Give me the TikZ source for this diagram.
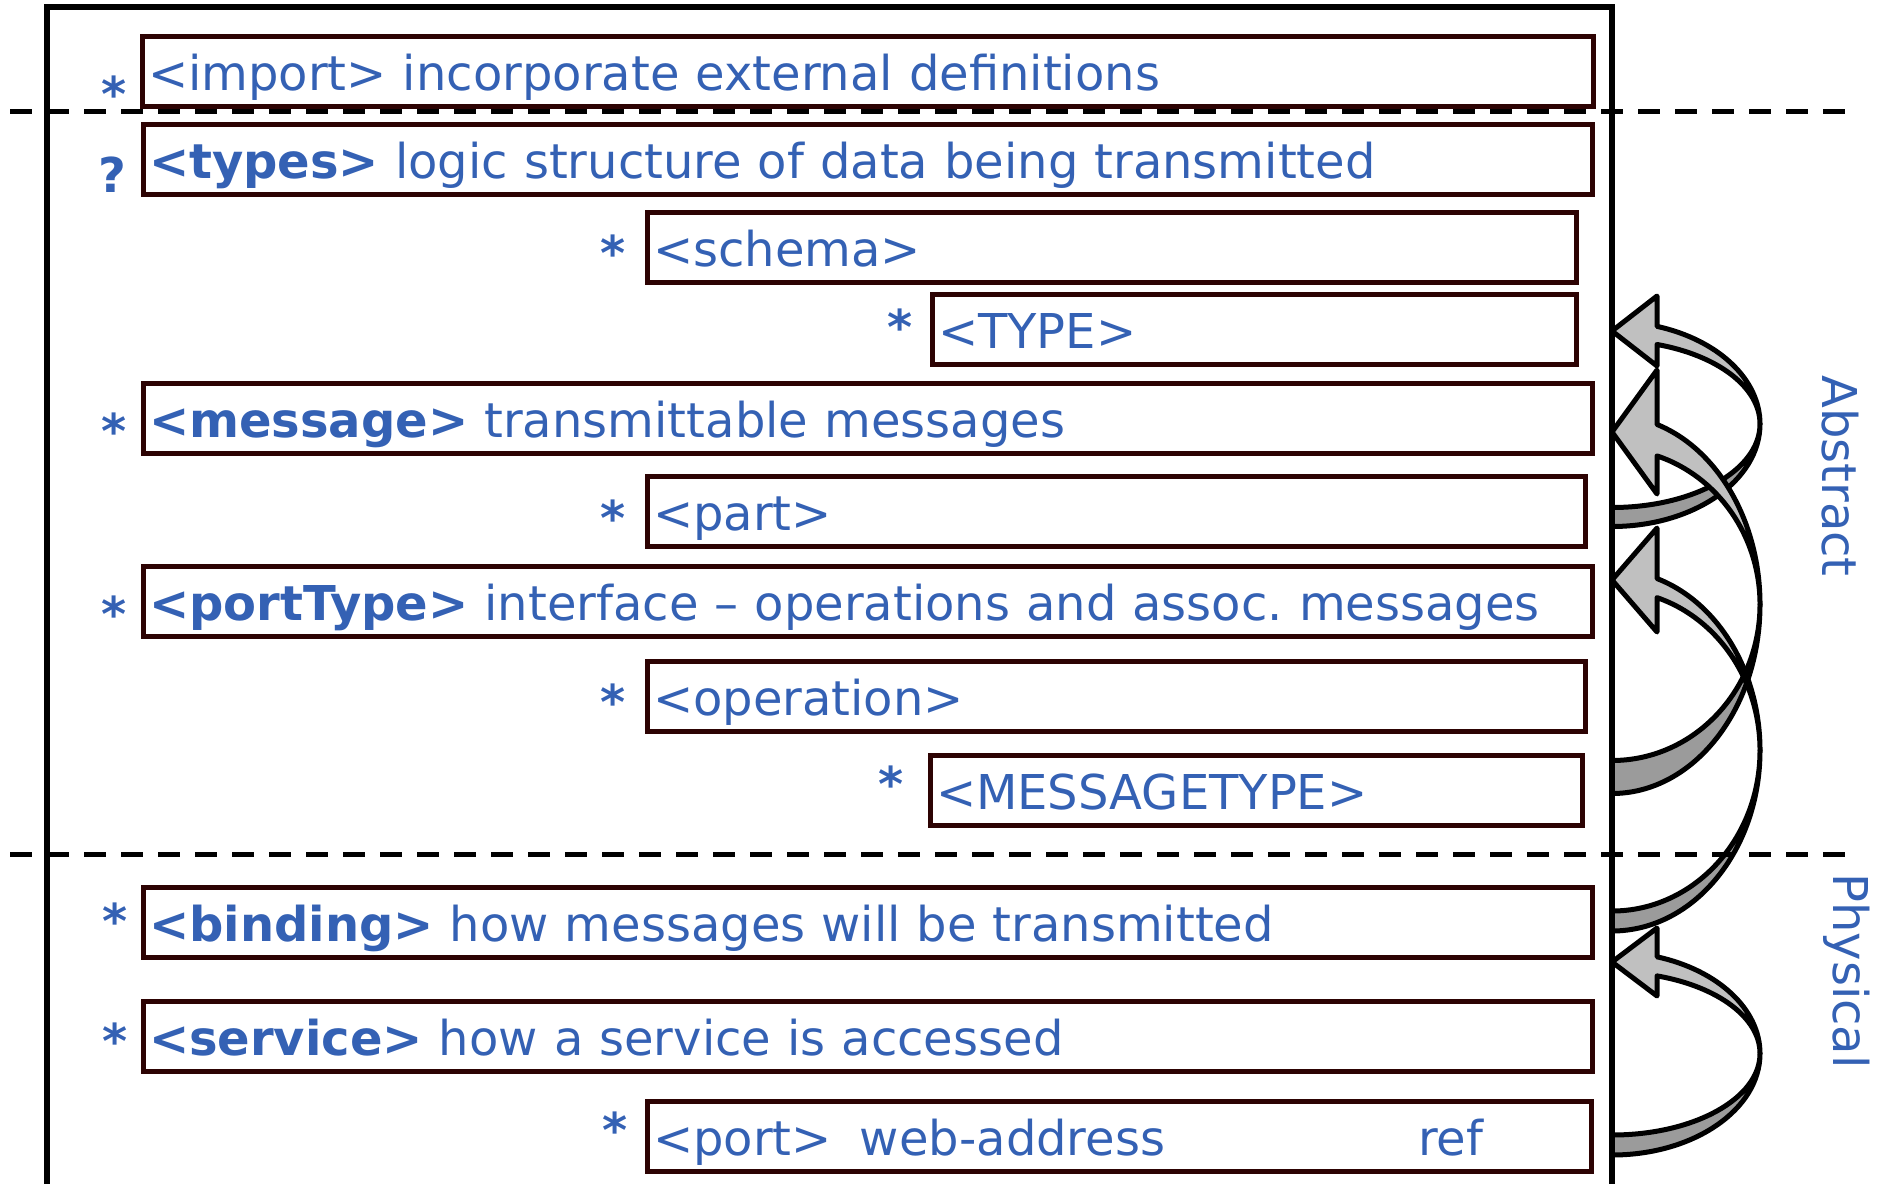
\documentclass[tikz,border=0pt]{standalone}
\usepackage{fontspec}
\setmainfont{DejaVu Sans}
\frenchspacing

\definecolor{wsdlblue}{RGB}{52,97,180}
\definecolor{boxedge}{RGB}{45,3,3}
\definecolor{bandlight}{RGB}{192,192,192}
\definecolor{banddark}{RGB}{155,155,155}

\tikzset{
  elem/.style={draw=boxedge, line width=5pt, anchor=north west, outer sep=0pt,
    inner xsep=6pt, inner ysep=0pt, minimum height=70pt,
    text=wsdlblue, align=left, text height=46pt, text depth=8pt,
    font=\fontsize{48}{56}\selectfont},
  mult/.style={text=wsdlblue, font=\fontsize{48}{56}\selectfont\bfseries,
    inner sep=0pt, outer sep=0pt, anchor=north},
  layer/.style={text=wsdlblue, font=\fontsize{48}{56}\selectfont,
    rotate=-90, anchor=base, inner sep=0pt},
  divider/.style={line width=5pt, dash pattern=on 22pt off 15pt},
  frame/.style={line width=5.5pt, line join=miter},
  bandup/.style={fill=bandlight, draw=black, line width=5pt, line join=round},
  banddown/.style={fill=banddark, draw=black, line width=5pt, line join=round},
}

% Curved block arrow leaving the frame at the tail and returning to it at the head.
% #1 head band centre y, #2 tail band centre y, #3 band thickness, #4 half height of the head
\newcommand\wsdlarrow[4]{%
  \pgfmathsetmacro\cy{(#1+#2)/2}%
  \pgfmathsetmacro\ro{(#2-#1)/2+#3/2}%
  \pgfmathsetmacro\ri{(#2-#1)/2-#3/2}%
  \pgfmathsetmacro\sv{sin(acos(45/148))}%
  \pgfmathsetmacro\hs{acos(45/148)}%
  \draw[banddown] (1760,\cy)
    arc[start angle=0, end angle=90, x radius=148, y radius=\ro]
    -- (1612,{\cy+\ri})
    arc[start angle=90, end angle=0, x radius=148, y radius=\ri] -- cycle;
  \draw[bandup] (1657,{\cy-\ro*\sv})
    arc[start angle=-\hs, end angle=0, x radius=148, y radius=\ro]
    arc[start angle=0, end angle=-\hs, x radius=148, y radius=\ri]
    -- (1657,{#1+#4}) -- (1612,#1) -- (1657,{#1-#4}) -- cycle;
}

\begin{document}
\begin{tikzpicture}[x=1pt, y=-1pt]
\useasboundingbox (0,0) rectangle (1881,1183);

% element boxes
\node[elem, minimum width=1451pt, text width=1439pt] (import) at (142,36)
  {<import> incorporate external definitions};
\node[elem, minimum width=1449pt, text width=1437pt] (types) at (143,124)
  {\textbf{<types>} logic structure of data being transmitted};
\node[elem, minimum width=929pt, text width=917pt] (schema) at (647,212)
  {<schema>};
\node[elem, minimum width=644pt, text width=632pt] (type) at (932,294)
  {<TYPE>};
\node[elem, minimum width=1449pt, text width=1437pt] (message) at (143,383)
  {\textbf{<message>} transmittable messages};
\node[elem, minimum width=938pt, text width=926pt] (part) at (647,476)
  {<part>};
\node[elem, minimum width=1449pt, text width=1437pt] (porttype) at (143,566)
  {\textbf{<portType>} interface – operations and assoc. messages};
\node[elem, minimum width=938pt, text width=926pt] (operation) at (647,661)
  {<operation>};
\node[elem, minimum width=652pt, text width=640pt] (msgtype) at (930,755)
  {<MESSAGETYPE>};
\node[elem, minimum width=1449pt, text width=1437pt] (binding) at (143,887)
  {\textbf{<binding>} how messages will be transmitted};
\node[elem, minimum width=1449pt, text width=1437pt] (service) at (143,1001)
  {\textbf{<service>} how a service is accessed};
\node[elem, minimum width=944pt, text width=932pt] (port) at (647,1101)
  {\makebox[207pt][l]{<port>}\makebox[558pt][l]{web-address}ref};

% multiplicity marks
\node[mult] (m-import) at (114,76) {*};
\node[mult, anchor=center] (m-types) at (112,175) {?};
\node[mult] (m-schema) at (613,235) {*};
\node[mult] (m-type) at (900,309) {*};
\node[mult] (m-message) at (114,413) {*};
\node[mult] (m-part) at (613,500) {*};
\node[mult] (m-porttype) at (114,596) {*};
\node[mult] (m-operation) at (613,684) {*};
\node[mult] (m-msgtype) at (891,766) {*};
\node[mult] (m-binding) at (115,903) {*};
\node[mult] (m-service) at (115,1023) {*};
\node[mult] (m-port) at (615,1112) {*};

% references between sections
\wsdlarrow{331}{517}{19}{35}
\wsdlarrow{432}{777}{33}{62}
\wsdlarrow{580}{921}{20}{52}
\wsdlarrow{962}{1145}{20}{34}

% document frame
\draw[frame] (47,1190) -- (47,7) -- (1612,7) -- (1612,1190);

% layer dividers
\draw[divider] (10,111) -- (1855,111);
\draw[divider] (10,854) -- (1855,854);

% layer labels
\node[layer] (abstract) at (1822,476) {Abstract};
\node[layer] (physical) at (1833,971) {Physical};
\end{tikzpicture}
\end{document}
